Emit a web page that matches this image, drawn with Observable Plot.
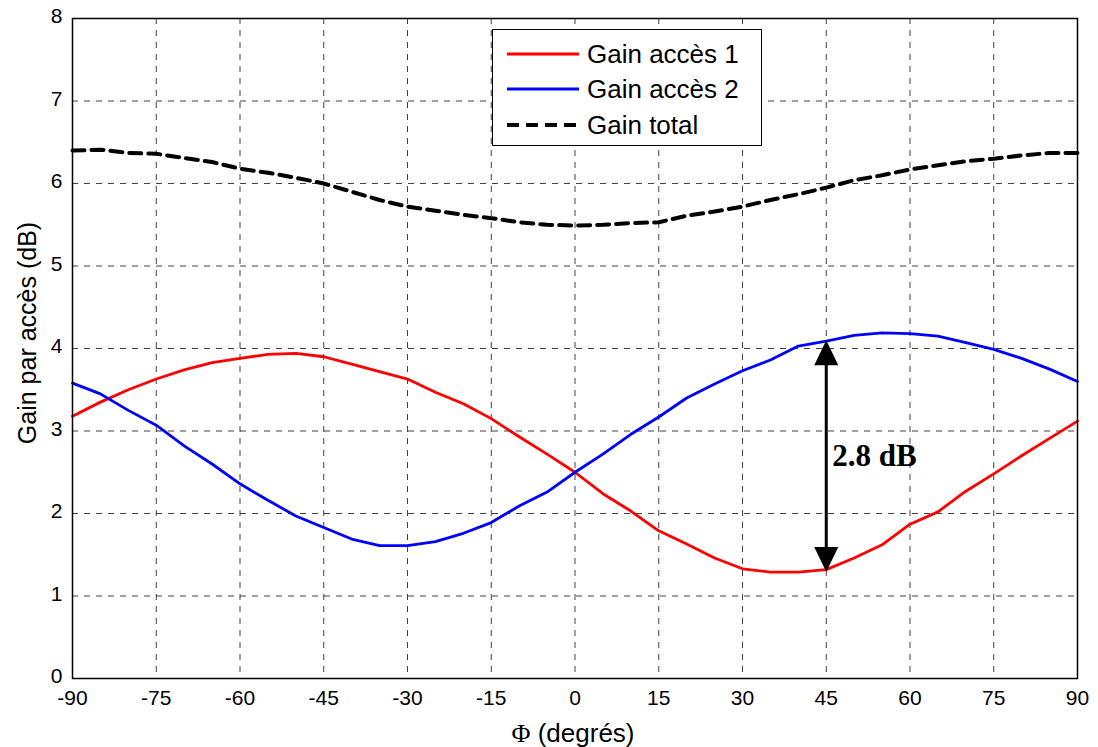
<!DOCTYPE html>
<html>
<head>
<meta charset="utf-8">
<script src="https://cdn.jsdelivr.net/npm/d3@7"></script>
<script src="https://cdn.jsdelivr.net/npm/@observablehq/plot@0.6"></script>
<style>
  html, body { margin: 0; padding: 0; background: #fff; }
  #wrap { position: relative; width: 1098px; height: 747px; font-family: "Liberation Sans", Arial, sans-serif; }
  #legend { position: absolute; left: 492px; top: 29px; width: 270px; height: 117px; border: 1px solid #000; background: #fff; box-sizing: border-box; }
  .row { position: absolute; left: 0; height: 30px; display: flex; align-items: center; }
  .row svg { margin-left: 14px; margin-right: 8px; }
  .row span { font-size: 26px; color: #000; white-space: nowrap; }
  #xlabel { position: absolute; left: 0; width: 1146px; top: 718px; text-align: center; font-size: 26px; line-height: 30px; color: #000; }
  #ylabel { position: absolute; left: 27px; top: 333px; transform: translate(-50%, -50%) rotate(-90deg); font-size: 25px; line-height: 28px; white-space: nowrap; color: #000; }
  .serif { font-family: "Liberation Serif", "Times New Roman", serif; }
</style>
</head>
<body>
<div id="wrap"></div>
<script>
const phi = [-90,-85,-80,-75,-70,-65,-60,-55,-50,-45,-40,-35,-30,-25,-20,-15,-10,-5,0,5,10,15,20,25,30,35,40,45,50,55,60,65,70,75,80,85,90];
const gain1 = [3.18,3.35,3.50,3.63,3.74,3.83,3.88,3.93,3.94,3.90,3.81,3.72,3.63,3.47,3.33,3.15,2.93,2.72,2.50,2.24,2.03,1.79,1.63,1.46,1.33,1.29,1.29,1.32,1.46,1.62,1.87,2.02,2.27,2.48,2.70,2.91,3.12];
const gain2 = [3.58,3.45,3.25,3.07,2.82,2.60,2.36,2.16,1.97,1.83,1.69,1.61,1.61,1.66,1.76,1.89,2.09,2.26,2.50,2.72,2.96,3.17,3.40,3.57,3.73,3.86,4.03,4.09,4.16,4.19,4.18,4.15,4.07,3.99,3.88,3.75,3.60];
const gainTotal = [6.40,6.41,6.37,6.36,6.31,6.26,6.18,6.13,6.07,6.00,5.90,5.80,5.72,5.67,5.62,5.58,5.53,5.50,5.49,5.50,5.52,5.53,5.61,5.66,5.72,5.80,5.87,5.95,6.04,6.10,6.17,6.22,6.27,6.30,6.34,6.37,6.37];
const xTicks = [-90,-75,-60,-45,-30,-15,0,15,30,45,60,75,90];
const yTicks = [0,1,2,3,4,5,6,7,8];
const seriesNames = ["Gain accès 1", "Gain accès 2", "Gain total"];
const seriesColors = ["#ff0000", "#0000ff", "#000000"];
const xLabelSymbol = "Φ";
const xLabelText = " (degrés)";
const yLabelText = "Gain par accès (dB)";
const annotPhi = 45;
const annotTop = 4.10;
const annotBottom = 1.29;
const annotText = "2.8 dB";

const s1 = phi.map((p, i) => ({phi: p, g: gain1[i]}));
const s2 = phi.map((p, i) => ({phi: p, g: gain2[i]}));
const st = phi.map((p, i) => ({phi: p, g: gainTotal[i]}));

// arrowhead symbols: tip at origin
const headW = 24, headH = 25;
const headUp = { draw(ctx) { ctx.moveTo(0, 0); ctx.lineTo(headW/2, headH); ctx.lineTo(-headW/2, headH); ctx.closePath(); } };
const headDown = { draw(ctx) { ctx.moveTo(0, 0); ctx.lineTo(headW/2, -headH); ctx.lineTo(-headW/2, -headH); ctx.closePath(); } };

const chart = Plot.plot({
  width: 1098,
  height: 747,
  marginLeft: 72,
  marginRight: 21,
  marginTop: 18,
  marginBottom: 69,
  style: { fontFamily: "Liberation Sans, Arial, sans-serif", fontSize: "21px", color: "#000", background: "#fff" },
  x: { domain: [-90, 90], type: "linear" },
  y: { domain: [0, 8], type: "linear" },
  marks: [
    Plot.gridX(xTicks, { stroke: "#000", strokeOpacity: 0.75, strokeWidth: 1, strokeDasharray: "6,6" }),
    Plot.gridY(yTicks, { stroke: "#000", strokeOpacity: 0.75, strokeWidth: 1, strokeDasharray: "6,6" }),
    Plot.axisX(xTicks, { tickSize: 0, tickPadding: 12, tickFormat: d => String(d), label: null, fontSize: 21 }),
    Plot.axisY(yTicks, { tickSize: 0, tickPadding: 10, tickFormat: d => String(d), label: null, fontSize: 21, dy: -2 }),
    Plot.line(st, { x: "phi", y: "g", stroke: seriesColors[2], strokeWidth: 4, strokeDasharray: "12,7" }),
    Plot.line(s1, { x: "phi", y: "g", stroke: seriesColors[0], strokeWidth: 2.8 }),
    Plot.line(s2, { x: "phi", y: "g", stroke: seriesColors[1], strokeWidth: 2.8 }),
    Plot.ruleX([annotPhi], { y1: annotBottom + 0.2, y2: annotTop - 0.2, stroke: "#000", strokeWidth: 3 }),
    Plot.dot([{x: annotPhi, y: annotTop}], { x: "x", y: "y", symbol: headUp, fill: "#000", stroke: "none", r: 10 }),
    Plot.dot([{x: annotPhi, y: annotBottom}], { x: "x", y: "y", symbol: headDown, fill: "#000", stroke: "none", r: 10 }),
    Plot.text([annotText], { x: annotPhi, y: (annotTop + annotBottom) / 2, text: d => d, dx: 6, textAnchor: "start", fontFamily: "Liberation Serif, Times New Roman, serif", fontWeight: "bold", fontSize: 31, fill: "#000" }),
    Plot.frame({ stroke: "#000", strokeWidth: 1.5 })
  ]
});

const wrap = document.getElementById("wrap");
wrap.appendChild(chart);

// Axis labels
const xl = document.createElement("div");
xl.id = "xlabel";
xl.innerHTML = `<span class="serif">${xLabelSymbol}</span>${xLabelText}`;
wrap.appendChild(xl);
const yl = document.createElement("div");
yl.id = "ylabel";
yl.textContent = yLabelText;
wrap.appendChild(yl);

// Legend
const legend = document.createElement("div");
legend.id = "legend";
const rowTops = [9, 44, 80];
seriesNames.forEach((name, i) => {
  const row = document.createElement("div");
  row.className = "row";
  row.style.top = rowTops[i] + "px";
  const dash = i === 2 ? 'stroke-dasharray="12,7" stroke-width="4"' : 'stroke-width="2.8"';
  row.innerHTML = `<svg width="72" height="10"><line x1="0" y1="5" x2="72" y2="5" stroke="${seriesColors[i]}" ${dash}/></svg><span>${name}</span>`;
  legend.appendChild(row);
});
wrap.appendChild(legend);
</script>
</body>
</html>
